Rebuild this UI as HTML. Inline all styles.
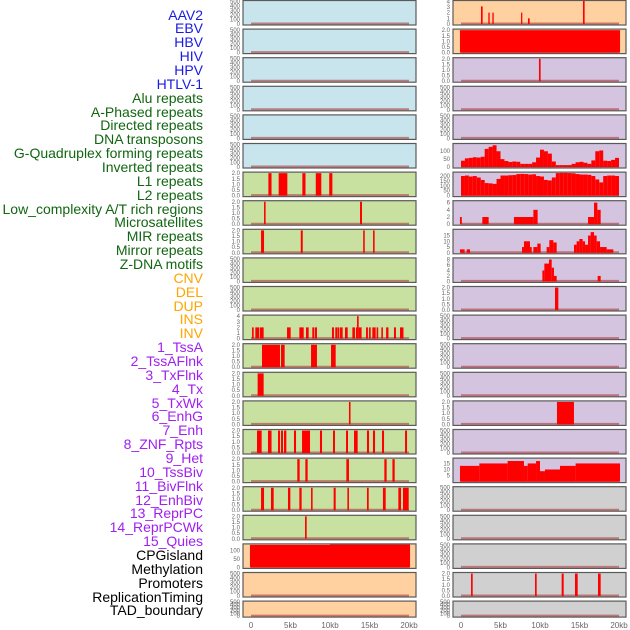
<!DOCTYPE html>
<html><head><meta charset="utf-8"><style>
body{margin:0;background:#fff;width:630px;height:630px;overflow:hidden;font-family:"Liberation Sans",sans-serif}
#labels{position:absolute;left:0;top:0;width:203px}
.lb{position:absolute;right:0;font-size:14px;white-space:nowrap;line-height:14px}
svg{position:absolute;left:0;top:0}
</style></head><body>
<div id="labels"></div>
<svg id="chart" width="630" height="630"></svg>
<script>
// ---- data ----
const labelNames=["AAV2","EBV","HBV","HIV","HPV","HTLV-1","Alu repeats","A-Phased repeats","Directed repeats","DNA transposons","G-Quadruplex forming repeats","Inverted repeats","L1 repeats","L2 repeats","Low_complexity A/T rich regions","Microsatellites","MIR repeats","Mirror repeats","Z-DNA motifs","CNV","DEL","DUP","INS","INV","1_TssA","2_TssAFlnk","3_TxFlnk","4_Tx","5_TxWk","6_EnhG","7_Enh","8_ZNF_Rpts","9_Het","10_TssBiv","11_BivFlnk","12_EnhBiv","13_ReprPC","14_ReprPCWk","15_Quies","CPGisland","Methylation","Promoters","ReplicationTiming","TAD_boundary"];
const labelGroups=[0,0,0,0,0,0,1,1,1,1,1,1,1,1,1,1,1,1,1,2,2,2,2,2,3,3,3,3,3,3,3,3,3,3,3,3,3,3,3,4,4,4,4,4];
const xTickValues=[0,5,10,15,20];
const xTickLabels=["0","5kb","10kb","15kb","20kb"];
// segments: [startKb, endKb, value]
const aluSegs=[[2.2,2.6,2],[3.5,4.6,2],[6.5,6.9,2],[8.2,8.9,2],[9.9,10.3,2]];
const aPhasedSegs=[[1.65,1.85,2],[13.8,14.05,2]];
const directedSegs=[[1.27,1.65,2],[6.3,6.55,2],[14.2,14.4,2],[15.45,15.65,2]];
const invertedSegs=[[0.13,0.34,2],[0.55,1.05,2],[1.14,1.6,2],[4.56,5.02,2],[6.12,6.67,2],[6.96,7.3,2],[7.76,8.02,2],[8.1,8.35,2],[10.25,10.5,2],[10.67,10.89,2],[10.93,11.18,2],[11.27,11.6,2],[11.9,12.24,2],[12.83,13.16,2],[13.29,13.42,2],[13.42,13.63,4],[13.63,14.0,2],[14.56,14.8,2],[14.94,15.15,2],[15.36,15.78,2],[15.9,16.1,2],[16.5,16.7,2],[17.1,17.4,2],[18.1,18.35,2],[18.86,19.3,2]];
const l1Segs=[[1.39,3.67,2],[3.8,4.26,2],[7.6,8.35,2],[10.13,10.72,2]];
const l2Segs=[[0.84,1.6,2]];
const lowCxSegs=[[12.4,12.6,2]];
const microSegs=[[0.76,1.35,2],[2.15,2.6,2],[3.42,3.67,2],[3.8,4.05,2],[4.18,4.47,2],[5.44,5.7,2],[6.46,7.47,2],[8.73,8.99,2],[10.38,10.63,2],[12.03,12.28,2],[13.04,13.5,2],[14.68,14.94,2],[15.44,15.7,2],[16.58,16.84,2],[19.5,19.75,2]];
const mirSegs=[[5.86,6.16,2],[6.88,7.17,2],[12.07,12.4,2],[16.88,17.17,2],[17.9,18.19,2]];
const mirrorSegs=[[1.27,1.65,2],[2.53,2.87,2],[4.68,4.98,2],[6.12,6.41,2],[7.6,7.8,2],[10.46,10.72,2],[12.2,12.4,2],[14.68,14.9,2],[16.7,17.05,2],[18.65,18.99,2],[19.24,19.96,2]];
const zdnaSegs=[[6.84,7.05,2]];
const cnvSegs=[[-0.13,10,135],[10,20.13,137]];
const insSegs=[[2.53,2.74,3.1],[3.46,3.63,2],[3.97,4.14,2],[7.6,7.76,2],[8.48,8.69,1],[15.44,15.65,4.3]];
const invSegs=[[-0.13,20.13,2]];
const tssASegs=[[9.87,10.08,2]];
const txWkBins=[40,55,58,62,60,65,115,128,138,100,50,38,32,35,33,20,20,20,30,60,110,100,85,35,12,12,12,12,20,30,33,27,20,42,100,105,40,38,45,58];
const enhGBins=[200,205,195,200,185,160,128,125,120,170,205,205,208,210,220,222,220,215,218,200,195,160,155,185,230,232,232,230,228,220,215,215,212,200,165,135,200,205,205,200];
const enhSegs=[[-0.13,0.1,2],[2.7,3.5,2],[6.7,9.16,2],[9.16,9.7,4],[16.08,16.84,2],[16.84,17.26,6],[17.26,17.68,4]];
const znfSegs=[[-0.13,0.46,3],[0.72,1.14,3],[7.72,7.97,5],[7.97,8.73,10],[8.73,8.95,5],[9.16,9.66,5],[9.66,10.08,8],[10.84,11.18,5],[11.18,11.69,11],[11.69,12.11,9],[14.3,14.64,7],[14.64,14.98,10],[14.98,15.4,12],[15.4,15.7,10],[15.7,16.08,7],[16.08,16.41,15],[16.41,16.84,18],[16.84,17.17,15],[17.17,17.6,10],[17.6,18.44,5],[18.44,19.28,3]];
const hetSegs=[[10.3,10.55,4],[10.55,11.14,6.5],[11.14,11.48,8],[11.48,11.77,5],[11.77,12.11,2],[17.3,17.68,2]];
const tssBivSegs=[[11.9,12.32,2]];
const reprPCSegs=[[12.15,14.3,2]];
const quiesSegs=[[-0.13,2.32,13],[2.32,5.9,15],[5.9,7.97,17],[7.97,8.44,13],[8.44,9.5,15],[9.5,10,17],[10,10.63,8.6],[10.63,12.53,10],[12.53,14.51,13],[14.51,20.13,15]];
const promoterSegs=[[1.27,1.48,2],[9.37,9.58,2],[12.74,13.0,2],[14.43,14.77,2],[17.34,17.68,2]];
// tick sets
const t500=[0,100,200,300,400,500], t500L=["0","100","200","300","400","500"];
const t2=[0,0.5,1,1.5,2], t2L=["0.0","0.5","1.0","1.5","2.0"];
const t4=[0,1,2,3,4], t4L=["0","1","2","3","4"];
const tCnv=[0,50,100], tCnvL=["0","50","100"];
const tTxWk=[0,50,100], tTxWkL=["0","50","100"];
const tEnhG=[0,50,100,150,200], tEnhGL=["0","50","100","150","200"];
const t6=[0,2,4,6], t6L=["0","2","4","6"];
const t15=[0,5,10,15], t15L=["0","5","10","15"];
const t8=[0,2,4,6,8], t8L=["0","2","4","6","8"];
const tQ=[5,10,15], tQL=["5","10","15"];
</script>
<script>
const svg=document.getElementById('chart');
const NS='http://www.w3.org/2000/svg';
const labelColors=["#1a1ae6","#116611","#ffa500","#a020f0","#000"];
const bgColors={blue:"#c8e4ec",green:"#c8e0a0",orange:"#ffd0a0",purple:"#d4c4e0",gray:"#d0d0d0"};
const lab=document.getElementById('labels');
labelNames.forEach((n,i)=>{
  const d=document.createElement('div');
  d.className='lb';
  
  
  d.style.top=(15+i*13.86-7.5)+'px';
  d.style.color=labelColors[labelGroups[i]];
  d.textContent=n;
  lab.appendChild(d);
});
function el(t,a){const e=document.createElementNS(NS,t);for(const k in a)e.setAttribute(k,a[k]);return e;}
const E=null;
// panel spec: [col,row,bg,ymax,ticks,tickLabels,segs,bins]
const panels=[
[0,0,'blue',510,t500,t500L,E,E],[0,1,'blue',510,t500,t500L,E,E],[0,2,'blue',510,t500,t500L,E,E],[0,3,'blue',510,t500,t500L,E,E],[0,4,'blue',510,t500,t500L,E,E],[0,5,'blue',510,t500,t500L,E,E],
[0,6,'green',2.05,t2,t2L,aluSegs,E],[0,7,'green',2.05,t2,t2L,aPhasedSegs,E],[0,8,'green',2.05,t2,t2L,directedSegs,E],
[0,9,'green',510,t500,t500L,E,E],[0,10,'green',510,t500,t500L,E,E],[0,11,'green',4.1,t4,t4L,invertedSegs,E],
[0,12,'green',2.05,t2,t2L,l1Segs,E],[0,13,'green',2.05,t2,t2L,l2Segs,E],[0,14,'green',2.05,t2,t2L,lowCxSegs,E],
[0,15,'green',2.05,t2,t2L,microSegs,E],[0,16,'green',2.05,t2,t2L,mirSegs,E],[0,17,'green',2.05,t2,t2L,mirrorSegs,E],
[0,18,'green',2.05,t2,t2L,zdnaSegs,E],[0,19,'orange',138,tCnv,tCnvL,cnvSegs,E],[0,20,'orange',510,t500,t500L,E,E],[0,21,'orange',510,t500,t500L,E,E],
[1,0,'orange',4.05,t4,t4L,insSegs,E],[1,1,'orange',2.05,t2,t2L,invSegs,E],[1,2,'purple',2.05,t2,t2L,tssASegs,E],
[1,3,'purple',510,t500,t500L,E,E],[1,4,'purple',510,t500,t500L,E,E],[1,5,'purple',146,tTxWk,tTxWkL,E,txWkBins],
[1,6,'purple',235,tEnhG,tEnhGL,E,enhGBins],[1,7,'purple',6.4,t6,t6L,enhSegs,E],[1,8,'purple',20,t15,t15L,znfSegs,E],
[1,9,'purple',8.4,t8,t8L,hetSegs,E],[1,10,'purple',2.05,t2,t2L,tssBivSegs,E],[1,11,'purple',510,t500,t500L,E,E],
[1,12,'purple',510,t500,t500L,E,E],[1,13,'purple',510,t500,t500L,E,E],[1,14,'purple',2.05,t2,t2L,reprPCSegs,E],
[1,15,'purple',510,t500,t500L,E,E],[1,16,'purple',19,tQ,tQL,quiesSegs,E],
[1,17,'gray',510,t500,t500L,E,E],[1,18,'gray',510,t500,t500L,E,E],[1,19,'gray',510,t500,t500L,E,E],
[1,20,'gray',2.05,t2,t2L,promoterSegs,E],[1,21,'gray',510,t500,t500L,E,E]];
panels.forEach((p,idx)=>{
  const [col,row,bg,ymax,ticks,tl,segs,bins]=p;
  const H=row===21?16:24.5;
  const px=col?453:243, pw=173, py=0.5+row*28.6;
  const x0=col?461:251;
  const xs=kb=>x0+kb*7.9;
  const ys=v=>py+H-1-Math.min(v,ymax)/ymax*(H-1.5);
  const g=el('g',{});
  
  
  const r=el('rect',{x:px,y:py,width:pw,height:H,fill:bgColors[bg],stroke:'#5a5a5a','stroke-width':1.2});
  
  
  g.appendChild(r);
  ticks.forEach((t,i)=>{
    const tx=el('text',{x:px-3,y:ys(t)+2,'font-size':6,'text-anchor':'end',fill:'#666'});
    
    
    tx.textContent=tl[i];g.appendChild(tx);
  });
  const base=el('line',{x1:xs(0),x2:xs(20),y1:py+H-1.5,y2:py+H-1.5,stroke:'rgba(170,60,60,0.6)','stroke-width':2});
  
  
  g.appendChild(base);
  const add=(a,b,v)=>{
    const y=ys(v);
    const b1=el('rect',{x:xs(a),y:y,width:Math.max(xs(b)-xs(a),1),height:py+H-1-y,fill:'#ff0000'});
    
    
    g.appendChild(b1);
  };
  if(segs) segs.forEach(s=>add(s[0],s[1],s[2]));
  if(bins) bins.forEach((v,k)=>add(k*0.5,k*0.5+0.5,v));
  svg.appendChild(g);
});
[0,1].forEach(col=>{
  const x0=col?461:251;
  xTickValues.forEach((v,i)=>{
    const t=el('text',{x:x0+v*7.9,y:628,'font-size':8,'text-anchor':'middle',fill:'#666'});
    
    
    t.textContent=xTickLabels[i];svg.appendChild(t);
  });
});
</script>
</body></html>
